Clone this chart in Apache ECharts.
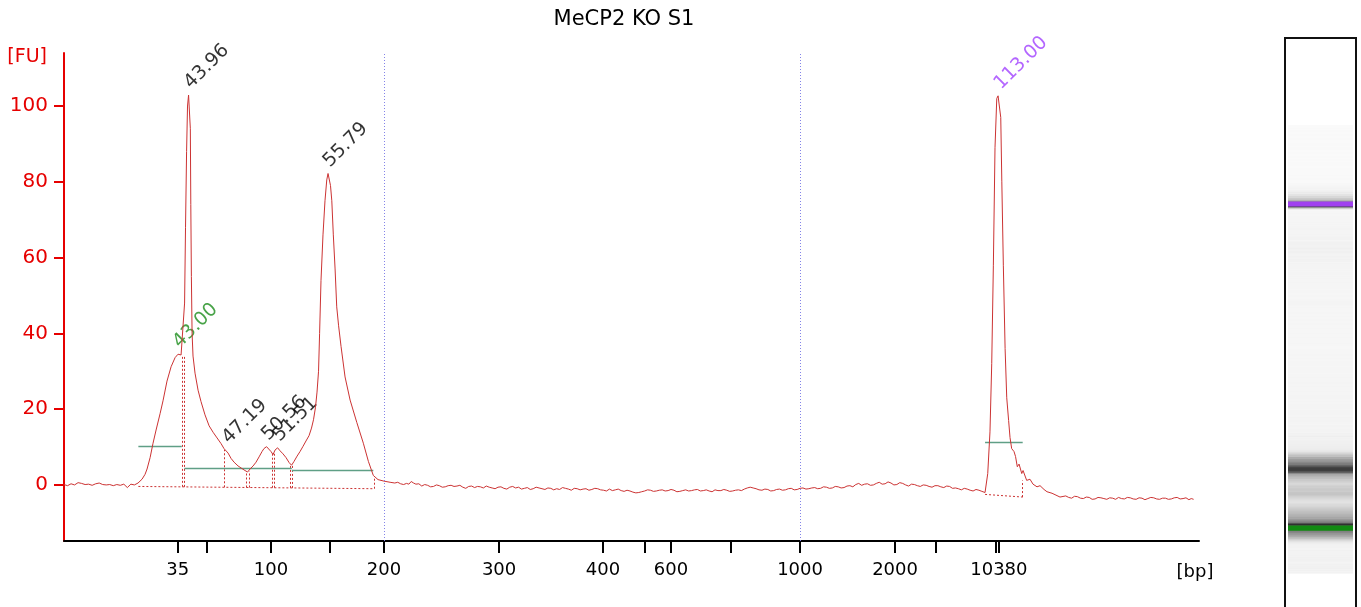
<!DOCTYPE html>
<html><head><meta charset="utf-8">
<script src="https://cdn.jsdelivr.net/npm/echarts@6/dist/echarts.min.js"></script>
<style>html,body{margin:0;padding:0;background:#fff}#c{width:1361px;height:607px}</style>
</head><body><div id="c"></div>
<script>
const chartTitle = 'MeCP2 KO S1';
// trace pieces: [migration time s, fluorescence FU]
const baselineLeft = [
[33.30,0.1],[33.45,0.3],[33.60,-0.2],[33.75,0.0],[33.90,0.3],[34.05,0.1],[34.20,0.0],[34.35,0.4],[34.50,0.6],[34.65,0.2],
[34.80,0.4],[34.95,0.1],[35.10,0.1],[35.25,0.3],[35.40,0.2],[35.55,-0.1],[35.70,-0.1],[35.85,0.2],[36.00,0.3],[36.15,0.6],
[36.30,0.5],[36.45,0.2],[36.60,0.1],[36.75,0.3],[36.90,0.0],[37.05,-0.2],[37.20,0.1],[37.35,0.0],[37.50,-0.2],[37.65,0.2],
[37.80,0.1],[37.95,-0.2],[38.10,-0.1],[38.25,0.3],[38.40,0.2],[38.55,-0.3],[38.70,-0.7],[38.85,-0.2],[39.00,0.2],[39.15,0.4],
[39.30,0.0],[39.45,0.3],[39.61,0.5]
];
const sizingPeaks = [
[39.95,1.5],[40.21,2.8],[40.38,4.2],[40.64,7.2],[40.89,11.0],[41.15,14.5],[41.49,18.8],[41.74,22.2],[42.08,27.4],[42.43,31.2],
[42.77,33.6],[43.02,34.5],[43.28,34.3],[43.45,34.6],[43.58,48],[43.66,68],[43.75,88],[43.83,100],[43.92,102.9],[44.00,102.9],
[44.07,94],[44.11,74],[44.16,55],[44.22,40],[44.30,34],[44.47,29.5],[44.73,25],[44.98,22],[45.32,18.5],[45.67,15.6],
[46.01,13.9],[46.35,12.4],[46.69,10.9],[46.94,9.6],[47.11,9.2],[47.29,8.4],[47.54,7.0],[47.80,6.0],[48.14,5.0],[48.48,4.3],
[48.73,3.8],[48.95,3.4],[49.16,4.2],[49.42,5.0],[49.67,6.0],[49.93,7.4],[50.18,8.8],[50.35,9.6],[50.57,10.1],[50.74,9.9],
[50.95,8.8],[51.12,8.0],[51.29,9.2],[51.51,9.8],[51.72,9.0],[51.97,8.2],[52.23,7.2],[52.49,5.9],[52.70,5.2],[52.91,6.2],
[53.17,7.6],[53.42,8.8],[53.68,10.2],[53.93,11.6],[54.19,13.0],[54.40,15.0],[54.57,17.2],[54.74,20.5],[54.87,24.5],[55.00,30.0],
[55.09,40],[55.21,54],[55.38,66],[55.55,75],[55.70,80.5],[55.81,82.2],[55.92,81.8],[56.02,79],[56.13,75],[56.26,66],
[56.41,57],[56.55,47],[56.71,42],[56.92,36.5],[57.26,28.5],[57.69,22.4],[58.26,16.5],[58.82,11.0],[59.25,6.2],[59.67,2.5],
[60.07,1.4],[60.58,1.0],[61.10,0.7]
];
const baselineMid = [
[61.5,0.5],[61.75,0.7],[62.0,0.3],[62.25,0.1],[62.5,0.4],[62.7,0.2],[62.9,0.9],[63.1,0.5],[63.3,0.2],[63.55,0.3],
[63.8,-0.3],[64.05,0.1],[64.3,-0.1],[64.55,-0.5],[64.8,-0.4],[65.05,0.0],[65.3,-0.2],[65.55,-0.6],[65.8,-0.5],[66.05,-0.2],
[66.3,-0.1],[66.55,-0.4],[66.8,-0.3],[67.05,-0.1],[67.3,-0.6],[67.55,-0.9],[67.8,-0.4],[68.05,-0.3],[68.3,-0.7],[68.55,-0.4],
[68.8,-0.5],[69.05,-0.8],[69.3,-0.3],[69.55,-0.6],[69.8,-0.8],[70.05,-1.0],[70.3,-0.6],[70.55,-0.5],[70.8,-0.9],[71.05,-1.1],
[71.3,-0.6],[71.55,-0.4],[71.8,-0.8],[72.05,-0.6],[72.3,-1.1],[72.55,-0.9],[72.8,-0.7],[73.05,-1.2],[73.3,-1.0],[73.55,-0.6],
[73.8,-0.8],[74.05,-1.0],[74.3,-1.2],[74.55,-0.8],[74.8,-0.9],[75.05,-1.3],[75.3,-1.0],[75.55,-1.2],[75.8,-0.7],[76.05,-0.9],
[76.3,-1.1],[76.55,-1.4],[76.8,-0.9],[77.05,-1.0],[77.3,-1.3],[77.55,-1.1],[77.8,-1.0],[78.05,-1.4],[78.3,-1.2],[78.55,-0.9],
[78.8,-1.0],[79.05,-1.3],[79.3,-1.4],[79.55,-1.6],[79.8,-1.1],[80.05,-1.5],[80.3,-1.3],[80.55,-1.1],[80.8,-1.5],[81.05,-1.7],
[81.3,-1.4],[81.55,-1.6],[81.8,-1.9],[82.05,-2.1],[82.3,-2.0],[82.55,-1.8],[82.8,-1.6],[83.05,-1.3],[83.3,-1.4],[83.55,-1.7],
[83.8,-1.6],[84.05,-1.4],[84.3,-1.3],[84.55,-1.6],[84.8,-1.5],[85.05,-1.2],[85.3,-1.4],[85.55,-1.8],[85.8,-1.7],[86.05,-1.5],
[86.3,-1.3],[86.55,-1.6],[86.8,-1.5],[87.05,-1.3],[87.3,-1.2],[87.55,-1.6],[87.8,-1.5],[88.05,-1.3],[88.3,-1.6],[88.55,-1.8],
[88.8,-1.3],[89.05,-1.5],[89.3,-1.5],[89.55,-1.2],[89.8,-1.4],[90.05,-1.7],[90.3,-1.6],[90.55,-1.4],[90.8,-1.3],[91.05,-1.5],
[91.3,-1.1],[91.55,-0.8],[91.8,-0.6],[92.05,-0.8],[92.3,-1.0],[92.55,-1.3],[92.8,-1.4],[93.05,-1.1],[93.3,-1.2],[93.55,-1.6],
[93.8,-1.5],[94.05,-1.2],[94.3,-1.1],[94.55,-1.4],[94.8,-1.3],[95.05,-1.0],[95.3,-0.9],[95.55,-1.3],[95.8,-1.2],[96.05,-0.9],
[96.3,-0.8],[96.55,-1.1],[96.8,-1.0],[97.05,-0.8],[97.3,-0.7],[97.55,-1.0],[97.8,-0.9],[98.05,-0.5],[98.3,-0.6],[98.55,-0.9],
[98.8,-0.8],[99.05,-0.4],[99.3,-0.5],[99.55,-0.8],[99.8,-0.7],[100.05,-0.3],[100.3,-0.2],[100.55,-0.5],[100.8,0.1],[101.05,0.4],
[101.3,-0.1],[101.55,0.2],[101.8,0.3],[102.05,-0.1],[102.3,0.0],[102.55,0.4],[102.8,0.7],[103.05,0.2],[103.3,0.3],[103.55,0.8],
[103.8,0.5],[104.05,0.0],[104.3,0.1],[104.55,0.6],[104.8,0.4],[105.05,0.0],[105.3,-0.3],[105.55,0.2],[105.8,0.1],[106.05,-0.2],
[106.3,-0.4],[106.55,0.0],[106.8,-0.1],[107.05,-0.4],[107.3,-0.6],[107.55,-0.2],[107.8,-0.2],[108.05,-0.5],[108.3,-0.7],[108.55,-0.3],
[108.8,-0.4],[109.05,-0.9],[109.3,-0.8],[109.55,-1.0],[109.8,-1.3],[110.05,-0.9],[110.3,-1.1],[110.55,-1.4],[110.8,-1.6],[111.05,-1.2],
[111.3,-1.4],[111.55,-1.7],[111.82,-2.0]
];
const upperMarker = [
[112.05,3.0],[112.24,14.0],[112.39,32],[112.53,58],[112.67,89],[112.82,102],[112.93,102.7],[113.04,102.7],[113.16,97],[113.25,80],
[113.38,58],[113.53,36],[113.67,23],[113.83,17],[113.95,12.5],[114.09,9.6],[114.29,8.8],[114.42,7.5],[114.57,4.8],[114.72,5.5],
[114.95,3.0],[115.06,3.8],[115.37,1.2],[115.65,1.5],[115.91,0.2],[116.25,-0.5],[116.51,-0.2],[116.85,-1.2],[117.10,-1.8],[117.53,-2.2],
[117.87,-2.7],[118.21,-3.2]
];
const baselineRight = [
[118.7,-2.9],[118.95,-3.3],[119.2,-3.5],[119.45,-3.0],[119.7,-3.1],[119.95,-3.5],[120.2,-3.6],[120.45,-3.2],[120.7,-3.3],[120.95,-3.8],
[121.2,-3.7],[121.45,-3.3],[121.7,-3.4],[121.95,-3.6],[122.2,-3.8],[122.45,-3.4],[122.7,-3.5],[122.95,-3.8],[123.2,-3.3],[123.45,-3.6],
[123.7,-3.7],[123.95,-3.3],[124.2,-3.4],[124.45,-3.7],[124.7,-3.8],[124.95,-3.4],[125.2,-3.5],[125.45,-3.9],[125.7,-3.6],[125.95,-3.3],
[126.2,-3.4],[126.45,-3.7],[126.7,-3.8],[126.95,-3.5],[127.2,-3.5],[127.45,-3.8],[127.7,-3.7],[127.95,-3.4],[128.2,-3.3],[128.45,-3.7],
[128.7,-3.6],[128.95,-3.4],[129.2,-3.9],[129.4,-3.6],[129.6,-3.8]
];

// ladder: base pairs and their migration times
const ladderBp    = ['35','50','100','150','200','300','400','500','600','700','1000','2000','3000','7000','10380'];
const ladderTimes = [43.00,45.49,50.95,55.98,60.58,70.39,79.25,82.83,85.05,90.16,96.05,104.15,107.64,112.75,113.00];
const labelledBp  = ['35','100','200','300','400','600','1000','2000','10380'];
const guideBp     = ['200','1000'];
const yTicks      = [0,20,40,60,80,100];

// peak annotations
const peakTimes   = [43.00,43.96,47.19,50.56,51.51,55.79,113.00];
const peakHeights = [34.5,102.9,9.2,10.1,9.8,82.2,102.7];
const peakKinds   = ['lower','peak','peak','peak','peak','peak','upper'];

// integration helpers: [tStart, tEnd, FU]
const widthLines = [[39.64,43.34,10.1],[43.56,52.72,4.3],[52.72,59.67,3.8],[111.82,115.03,11.2]];
// baselines: [t1, FU1, t2, FU2]
const baselines = [[39.64,-0.4,59.75,-1.0],[111.82,-2.5,115.03,-3.2]];
// peak boundaries: [t, FU top]
const boundaries = [[43.34,34.3],[43.54,34.3],[46.97,9.3],[48.87,3.6],[49.06,3.6],[51.03,8.5],[51.22,8.3],[52.62,5.3],[52.79,5.3],[59.75,2.3],[115.03,1.2]];

const trace = baselineLeft.concat(sizingPeaks, baselineMid, upperMarker, baselineRight);
const traceTime = trace.map(d=>d[0]);
const traceFU = trace.map(d=>d[1]);

const xMin = 33.30, xMax = 130.06, yMin = -14.8, yMax = 114.0;
const FONT = 'DejaVu Sans';
const RED = '#e60000', TRACE = '#cc3333';
const kindColor = {lower:'#1a8c1a', peak:'#000000', upper:'#a040ff'};

const timeToBp = {};
ladderTimes.forEach((t,i)=>{ timeToBp[t.toFixed(2)] = ladderBp[i]; });
const bpToTime = {};
ladderBp.forEach((b,i)=>{ bpToTime[b] = ladderTimes[i]; });

function baseAt(seg, t){ return seg[1] + (seg[3]-seg[1])*(t-seg[0])/(seg[2]-seg[0]); }
function baselineFor(t){
  for (const s of baselines) if (t>=s[0]-0.01 && t<=s[2]+0.01) return baseAt(s,t);
  return 0;
}

const dottedData = baselines.map(s=>({coords:[[s[0],s[1]],[s[2],s[3]]]}))
  .concat(boundaries.map(b=>({coords:[[b[0],baselineFor(b[0])],[b[0],b[1]]]})));
const greenData = widthLines.map(w=>({coords:[[w[0],w[2]],[w[1],w[2]]]}));

function gelGray(v){
  const g = v >= 0 ? 243 - 210*(1-Math.exp(-v/40)) : 243 - 1.8*v;
  return Math.max(40, Math.min(250, Math.round(g)));
}

const gelMarkers = peakKinds.map((k,i)=>[k,peakTimes[i]]).filter(d=>d[0]!=='peak');

const chart = echarts.init(document.getElementById('c'), null, {renderer:'canvas'});
chart.setOption({
  animation:false,
  backgroundColor:'#fff',
  title:{text:chartTitle, left:619, top:4, textAlign:'center',
    textStyle:{fontFamily:FONT, fontSize:21, fontWeight:'normal', color:'#000'}},
  grid:[
    {left:64, right:162, top:53, bottom:66},
    {left:1288, width:65, top:125, bottom:34}
  ],
  xAxis:[
    {type:'value', gridIndex:0, min:xMin, max:xMax,
     name:'[bp]', nameLocation:'end', nameGap:-4,
     nameTextStyle:{fontFamily:FONT, fontSize:18, color:'#000', align:'center', verticalAlign:'top', padding:[22,0,0,0]},
     axisLine:{onZero:false, lineStyle:{color:'#000', width:2}},
     axisTick:{show:true, customValues:ladderTimes, length:12, lineStyle:{color:'#000', width:2}},
     axisLabel:{customValues:labelledBp.map(b=>bpToTime[b]), margin:20,
       fontFamily:FONT, fontSize:18, color:'#000',
       formatter:v=>timeToBp[Number(v).toFixed(2)]||''},
     splitLine:{show:false}},
    {type:'value', gridIndex:1, min:0, max:1, show:false}
  ],
  yAxis:[
    {type:'value', gridIndex:0, min:yMin, max:yMax,
     name:'[FU]', nameLocation:'end', nameGap:-4,
     nameTextStyle:{fontFamily:FONT, fontSize:19, color:RED, align:'right', verticalAlign:'middle', padding:[0,17,0,0]},
     axisLine:{onZero:false, lineStyle:{color:RED, width:2}},
     axisTick:{show:true, customValues:yTicks, length:10, lineStyle:{color:RED, width:2}},
     axisLabel:{customValues:yTicks, margin:16, fontFamily:FONT, fontSize:20, color:RED},
     splitLine:{show:false}},
    {type:'value', gridIndex:1, min:xMin, max:xMax, show:false}
  ],
  series:[
    {type:'lines', coordinateSystem:'cartesian2d', xAxisIndex:0, yAxisIndex:0, silent:true,
     data:dottedData, lineStyle:{color:TRACE, width:1, type:[2,2], opacity:1}},
    {type:'lines', coordinateSystem:'cartesian2d', xAxisIndex:0, yAxisIndex:0, silent:true,
     data:greenData, lineStyle:{color:'#5f9f86', width:1.3, opacity:1}},
    {type:'line', xAxisIndex:0, yAxisIndex:0, silent:true, showSymbol:false, symbol:'none',
     data:trace,
     lineStyle:{color:TRACE, width:1},
     markLine:{silent:true, symbol:['none','none'], label:{show:false},
       lineStyle:{color:'#8484e8', width:1, type:[1,2]},
       data:guideBp.map(b=>({xAxis:bpToTime[b]}))}},
    {type:'scatter', xAxisIndex:0, yAxisIndex:0, silent:true, symbolSize:0.1,
     itemStyle:{color:'rgba(0,0,0,0)'},
     data:peakTimes.map((t,i)=>({value:[t,peakHeights[i]],
        label:{color:kindColor[peakKinds[i]]}})),
     label:{show:true, position:'inside', align:'left', verticalAlign:'middle', rotate:45,
       offset:[5.5,-7.5], fontFamily:FONT, fontSize:19,
       formatter:p=>p.value[0].toFixed(2)}},
    {type:'custom', xAxisIndex:1, yAxisIndex:1, silent:true, clip:false,
     data:trace.map(d=>[0,d[0],d[1]]),
     renderItem:(params, api)=>{
       const i = params.dataIndex, n = traceTime.length;
       const t = traceTime[i];
       const lo = i>0 ? (traceTime[i-1]+t)/2 : xMin;
       const hi = i<n-1 ? (traceTime[i+1]+t)/2 : xMax;
       const a = api.coord([0,hi]), b = api.coord([1,lo]);
       const g = gelGray(traceFU[i]);
       return {type:'rect', shape:{x:a[0], y:a[1], width:b[0]-a[0], height:b[1]-a[1]+0.6},
         style:{fill:'rgb('+g+','+g+','+g+')'}};
     }},
    {type:'custom', xAxisIndex:1, yAxisIndex:1, silent:true, clip:false,
     data:gelMarkers.map(m=>[0,m[1]]),
     renderItem:(params, api)=>{
       const m = gelMarkers[params.dataIndex];
       const a = api.coord([0,m[1]+0.55]), b = api.coord([1,m[1]-0.55]);
       return {type:'rect', shape:{x:a[0], y:a[1], width:b[0]-a[0], height:b[1]-a[1]},
         style:{fill: m[0]==='lower' ? '#128a12' : '#a040f0'}};
     }}
  ],
  graphic:[
    {type:'rect', shape:{x:1285, y:38, width:71, height:600}, style:{fill:'none', stroke:'#111', lineWidth:2}, silent:true}
  ]
});
</script>
</body></html>
